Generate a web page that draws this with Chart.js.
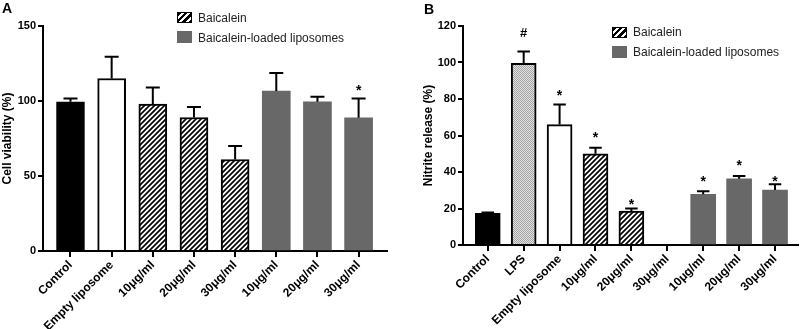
<!DOCTYPE html>
<html lang="en">
<head>
  <meta charset="UTF-8">
  <title>Baicalein cell viability and nitrite release</title>
  <script src="https://cdn.jsdelivr.net/npm/chart.js"></script>
  <style>
    body {
      margin: 0;
      background: #fff;
      font-family: 'Liberation Sans', Arial, sans-serif;
    }
    .page { position: relative; width: 800px; height: 329px; overflow: hidden; }
    .panel { position: absolute; top: 0; width: 400px; height: 329px; }
    .letter { position: absolute; top: 0; font-weight: bold; font-size: 14px; color: #000; }
    .legend { position: absolute; font-size: 12px; color: #222; }
    .item { position: absolute; left: 0; white-space: nowrap; height: 14px; line-height: 14px; }
    .swatch { position: absolute; left: 0; width: 15px; box-sizing: border-box; }
    .item span { position: absolute; left: 21px; top: 0; }
    .hatch {
      height: 11px;
      border: 1.5px solid #000;
      background: repeating-linear-gradient(135deg, #000 0 2.5px, #fff 2.5px 4.5px);
    }
    .grey { height: 12px; background: #686868; }
  </style>
</head>
<body>
  <div class="page">
    <div class="panel" style="left:0"><canvas id="chartA" width="400" height="329"></canvas></div>
    <div class="panel" style="left:400px"><canvas id="chartB" width="400" height="329"></canvas></div>
    <div class="letter" style="left:2px">A</div>
    <div class="letter" style="left:424px;top:1px">B</div>

    <div class="legend" style="left:177px;top:12px">
      <div class="item" style="top:-1px"><div class="swatch hatch" style="top:1px"></div><span>Baicalein</span></div>
      <div class="item" style="top:19px"><div class="swatch grey" style="top:0"></div><span>Baicalein-loaded liposomes</span></div>
    </div>
    <div class="legend" style="left:612px;top:27px">
      <div class="item" style="top:-2px"><div class="swatch hatch" style="top:2px"></div><span>Baicalein</span></div>
      <div class="item" style="top:18px"><div class="swatch grey" style="top:1px"></div><span>Baicalein-loaded liposomes</span></div>
    </div>
  </div>

  <script>
    // Panel A - cell viability
    const labelsA = ['Control', 'Empty liposome', '10μg/ml', '20μg/ml', '30μg/ml', '10μg/ml', '20μg/ml', '30μg/ml'];
    const viability = [99.5, 115, 98, 89, 61, 106.6, 99.5, 88.8];
    const viabilityErr = [2.2, 14.5, 11, 7, 9, 12, 3.3, 12.9];
    const marksA = ['', '', '', '', '', '', '', '*'];
    const markPosA = [null, null, null, null, null, null, null, 109];
    const kindsA = ['black', 'white', 'hatch', 'hatch', 'hatch', 'grey', 'grey', 'grey'];

    // Panel B - nitrite release
    const labelsB = ['Control', 'LPS', 'Empty liposome', '10μg/ml', '20μg/ml', '30μg/ml', '10μg/ml', '20μg/ml', '30μg/ml'];
    const nitrite = [17.3, 99.5, 66, 50, 18.6, null, 27.8, 36.3, 30.1];
    const nitriteErr = [0.5, 6.5, 11, 3.3, 1.4, null, 1.6, 1.5, 3.2];
    const marksB = ['', '#', '*', '*', '*', '', '*', '*', '*'];
    const markPosB = [null, 116.7, 83.3, 60.3, 23.7, null, 36.2, 45, 36.2];
    const kindsB = ['black', 'dots', 'white', 'hatch', 'hatch', 'hatch', 'grey', 'grey', 'grey'];

    const FONT = "'Liberation Sans', Arial, sans-serif";
    Chart.defaults.font.family = FONT;
    Chart.defaults.color = '#000';

    function makeHatch() {
      const c = document.createElement('canvas');
      c.width = c.height = 5;
      const g = c.getContext('2d');
      g.fillStyle = '#fff';
      g.fillRect(0, 0, 5, 5);
      g.strokeStyle = '#000';
      g.lineWidth = 1.7;
      g.beginPath();
      g.moveTo(-1, 6); g.lineTo(6, -1);
      g.moveTo(-3, 3); g.lineTo(3, -3);
      g.moveTo(2, 8); g.lineTo(8, 2);
      g.stroke();
      return g.createPattern(c, 'repeat');
    }

    function makeDots() {
      const c = document.createElement('canvas');
      c.width = c.height = 2;
      const g = c.getContext('2d');
      g.fillStyle = '#e2e2e2';
      g.fillRect(0, 0, 2, 2);
      g.fillStyle = '#a4a4a4';
      g.fillRect(0, 0, 1, 1);
      g.fillRect(1, 1, 1, 1);
      return g.createPattern(c, 'repeat');
    }

    const fills = { black: '#000', white: '#fff', hatch: makeHatch(), dots: makeDots(), grey: '#686868' };

    // error bars (upper only) and significance marks
    const extras = {
      id: 'extras',
      afterDatasetsDraw(chart, args, opts) {
        const ctx = chart.ctx;
        const y = chart.scales.y;
        const bars = chart.getDatasetMeta(0).data;
        ctx.save();
        ctx.strokeStyle = '#000';
        ctx.lineWidth = 2;
        opts.means.forEach((m, i) => {
          if (m == null) return;
          const bar = bars[i];
          const top = y.getPixelForValue(m + opts.errs[i]);
          const base = y.getPixelForValue(m);
          const half = bar.width / 4;
          ctx.beginPath();
          ctx.moveTo(bar.x, base);
          ctx.lineTo(bar.x, top);
          ctx.moveTo(bar.x - half, top);
          ctx.lineTo(bar.x + half, top);
          ctx.stroke();
        });
        ctx.fillStyle = '#000';
        ctx.textAlign = 'center';
        ctx.textBaseline = 'alphabetic';
        opts.marks.forEach((t, i) => {
          if (!t) return;
          ctx.font = 'bold ' + (t === '#' ? 13 : 14) + 'px ' + FONT;
          const m = ctx.measureText(t);
          const mid = (m.actualBoundingBoxAscent - m.actualBoundingBoxDescent) / 2;
          const x = chart.scales.x.getPixelForValue(i);
          ctx.fillText(t, x, y.getPixelForValue(opts.markPos[i]) + mid);
        });
        ctx.restore();
      }
    };

    function buildChart(id, o) {
      return new Chart(document.getElementById(id), {
        type: 'bar',
        data: {
          datasets: [{
            data: o.values.map((v, i) => ({ x: i, y: v })),
            backgroundColor: o.kinds.map(k => fills[k]),
            borderColor: '#000',
            borderWidth: o.kinds.map(k => k === 'grey' ? 0 : 2),
            borderSkipped: 'bottom',
            barThickness: o.barWidth
          }]
        },
        options: {
          responsive: false,
          animation: false,
          layout: { padding: { left: 0, top: o.top, right: o.right, bottom: 0 } },
          plugins: {
            legend: { display: false },
            tooltip: { enabled: false },
            extras: { means: o.values, errs: o.errs, marks: o.marks, markPos: o.markPos }
          },
          scales: {
            x: {
              type: 'linear',
              min: o.xMin,
              max: o.xMax,
              offset: false,
              afterBuildTicks: s => { s.ticks = o.labels.map((_, i) => ({ value: i })); },
              afterFit: s => { s.height = o.xHeight; },
              ticks: {
                autoSkip: false,
                minRotation: 45,
                maxRotation: 45,
                padding: 1,
                font: { size: 12, weight: 'bold' },
                callback: v => o.labels[v]
              },
              grid: { offset: false, drawOnChartArea: false, color: '#000', lineWidth: 2, tickLength: 6 },
              border: { color: '#000', width: 2 }
            },
            y: {
              min: 0,
              max: o.yMax,
              afterFit: s => { s.width = o.yWidth; },
              ticks: { stepSize: o.yStep, padding: 2, font: { size: 11, weight: 'bold' } },
              grid: { drawOnChartArea: false, color: '#000', lineWidth: 2, tickLength: 5 },
              border: { color: '#000', width: 2 },
              title: {
                display: true,
                text: o.yTitle,
                padding: { top: o.titlePad, bottom: 0 },
                font: { size: 12, weight: 'bold' }
              }
            }
          }
        },
        plugins: [extras]
      });
    }

    buildChart('chartA', {
      labels: labelsA, values: viability, errs: viabilityErr, marks: marksA, markPos: markPosA, kinds: kindsA,
      barWidth: 28, xMin: -0.668, xMax: 7.69, yMax: 150, yStep: 50, yTitle: 'Cell viability (%)',
      top: 26, right: 13, xHeight: 78, yWidth: 43, titlePad: 0
    });

    buildChart('chartB', {
      labels: labelsB, values: nitrite, errs: nitriteErr, marks: marksB, markPos: markPosB, kinds: kindsB,
      barWidth: 25, xMin: -0.69, xMax: 8.64, yMax: 120, yStep: 20, yTitle: 'Nitrite release (%)',
      top: 26, right: 2, xHeight: 84, yWidth: 63, titlePad: 21
    });
  </script>
</body>
</html>
